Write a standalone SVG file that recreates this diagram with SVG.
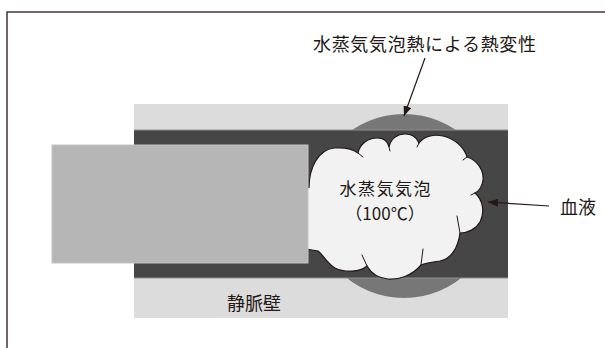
<svg xmlns="http://www.w3.org/2000/svg" width="605" height="348" viewBox="0 0 605 348">
  <style>
    .lbl { font-family: "Noto Sans CJK JP", "Noto Sans", sans-serif; font-size: 18px; fill: #231815; }
    .small { font-size: 17px; }
    .edge { fill: none; stroke: #231815; stroke-width: 1.2; }
    .tail { fill: none; stroke: #231815; stroke-width: 1; stroke-linecap: round; }
  </style>
  <defs>
    <marker id="arrowhead" viewBox="0 0 10 8" refX="10" refY="4" markerWidth="10" markerHeight="8" markerUnits="userSpaceOnUse" orient="auto">
      <path d="M0,0 L10,4 L0,8 Z" fill="#231815"/>
    </marker>
  </defs>

  <!-- page background and frame -->
  <rect width="605" height="348" fill="#ffffff"/>
  <rect x="7" y="12" width="640" height="400" fill="none" stroke="#231815" stroke-width="1.3"/>

  <!-- vein wall -->
  <g id="vein-wall">
    <rect x="134" y="104" width="374" height="214" fill="#dcdcdc"/>
  </g>

  <!-- thermally denatured zone -->
  <g id="denatured-zone">
    <circle cx="404" cy="206" r="92" fill="#777777"/>
  </g>

  <!-- blood lumen -->
  <g id="blood">
    <rect x="134" y="130" width="374" height="148" fill="#464646"/>
    <line x1="134" y1="130" x2="508" y2="130" stroke="#8f8f8f" stroke-width="1"/>
    <line x1="134" y1="278" x2="508" y2="278" stroke="#8f8f8f" stroke-width="1"/>
  </g>

  <!-- steam bubble -->
  <g id="steam-bubble">
    <path d="M300,190 L309,188
             C309,168 318,150 334,148 C346,147 354,150 358,153
             C360,143 369,138 377,138 C384,138 388,142 389,147
             C391,138 398,134 405,134 C412,134 417,138 419,143
             C424,136 434,134 443,136 C455,139 464,147 467,157
             C477,160 484,170 483,180 C482,187 479,191 475,193
             C483,200 485,212 480,222 C476,229 468,233 460,233
             C458,248 451,259 440,261 C432,262 425,263 421,265
             C412,276 398,280 388,279 C378,278 371,273 367,266
             C360,272 345,273 335,268 C328,264 324,256 318,251
             L300,248 Z" fill="#f2f2f2" stroke="none"/>
    <path class="edge" d="M309,188
             C309,168 318,150 334,148 C346,147 354,150 358,153
             C360,143 369,138 377,138 C384,138 388,142 389,147
             C391,138 398,134 405,134 C412,134 417,138 419,143
             C424,136 434,134 443,136 C455,139 464,147 467,157
             C477,160 484,170 483,180 C482,187 479,191 475,193
             C483,200 485,212 480,222 C476,229 468,233 460,233
             C458,248 451,259 440,261 C432,262 425,263 421,265
             C412,276 398,280 388,279 C378,278 371,273 367,266
             C360,272 345,273 335,268 C328,264 324,256 318,251
             L300,248"/>
    <path class="tail" d="M358,153 L363,157 M389,147 L390,151 M419,143 L417,147 M467,157 L463,160 M475,193 L471,195 M460,233 L457,216 M421,265 L423,249 M367,266 L362,255"/>
    <text class="lbl small" x="385" y="195" text-anchor="middle" textLength="91">水蒸気気泡</text>
    <text class="lbl small" x="385" y="220" text-anchor="middle">（100℃）</text>
  </g>

  <!-- catheter tip -->
  <g id="catheter">
    <rect x="52" y="145" width="256" height="118" fill="#b6b6b6" stroke="#c4c4c4" stroke-width="1"/>
  </g>

  <!-- labels -->
  <g id="label-denaturation">
    <text class="lbl" x="424.5" y="51" text-anchor="middle" textLength="223">水蒸気気泡熱による熱変性</text>
  </g>
  <g id="label-blood">
    <text class="lbl" x="560" y="214">血液</text>
  </g>
  <g id="label-wall">
    <text class="lbl" x="254" y="310" text-anchor="middle">静脈壁</text>
  </g>

  <!-- connectors -->
  <g id="connectors" stroke="#231815" stroke-width="1.2" fill="none">
    <line x1="425" y1="58" x2="404" y2="116" marker-end="url(#arrowhead)"/>
    <line x1="549" y1="206" x2="488" y2="202" marker-end="url(#arrowhead)"/>
  </g>
</svg>
